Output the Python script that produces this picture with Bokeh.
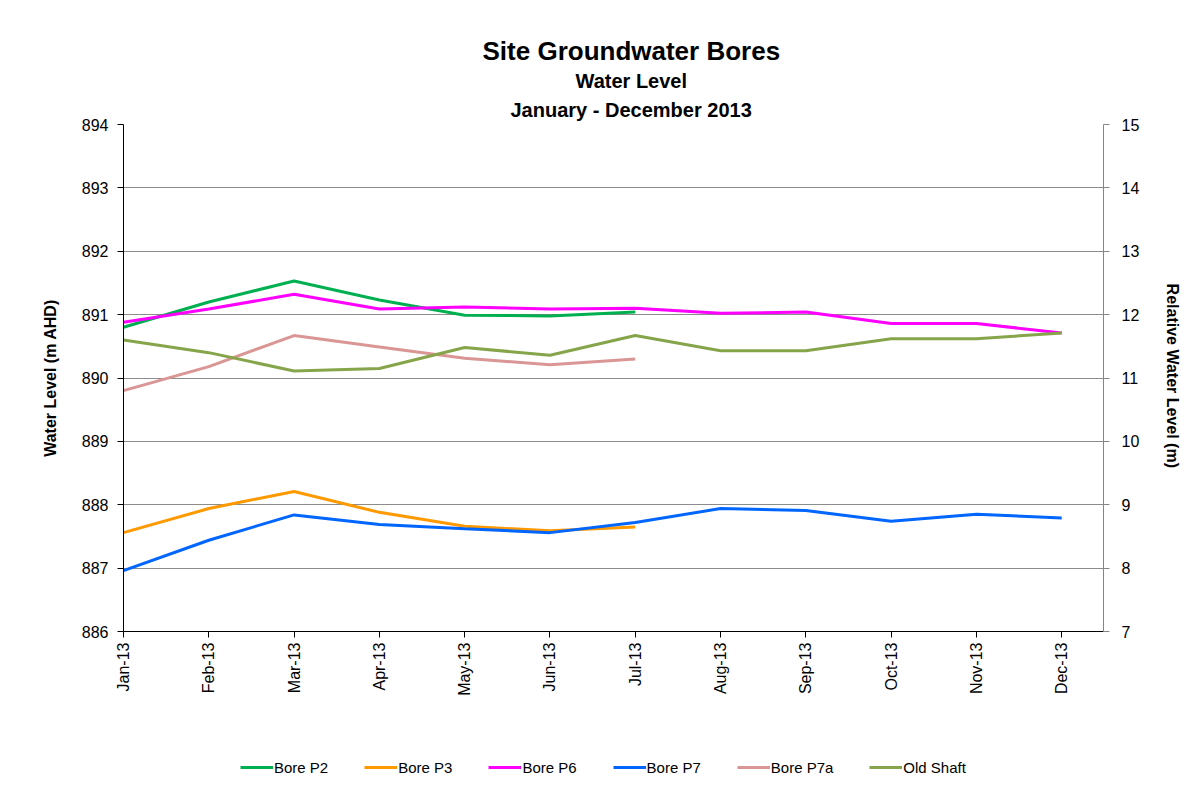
from bokeh.plotting import figure
from bokeh.layouts import column
from bokeh.models import (Range1d, LinearAxis, FixedTicker, Title, Legend, LegendItem)
from bokeh.embed import file_html
from bokeh.resources import INLINE
import math

months = ["Jan-13", "Feb-13", "Mar-13", "Apr-13", "May-13", "Jun-13",
          "Jul-13", "Aug-13", "Sep-13", "Oct-13", "Nov-13", "Dec-13"]

bore_p2 = [890.80, 891.20, 891.53, 891.23, 890.99, 890.98, 891.04]
bore_p3 = [887.56, 887.94, 888.21, 887.88, 887.66, 887.59, 887.65]
bore_p6 = [890.88, 891.09, 891.32, 891.09, 891.12, 891.09, 891.10,
           891.02, 891.04, 890.86, 890.86, 890.71]
bore_p7 = [886.96, 887.44, 887.84, 887.69, 887.62, 887.56, 887.72,
           887.94, 887.91, 887.74, 887.85, 887.79]
bore_p7a = [889.80, 890.18, 890.67, 890.49, 890.31, 890.21, 890.30]
old_shaft = [890.60, 890.40, 890.11, 890.15, 890.48, 890.36, 890.67,
             890.43, 890.43, 890.62, 890.62, 890.71]

left_ticks = [886, 887, 888, 889, 890, 891, 892, 893, 894]
right_ticks = [7, 8, 9, 10, 11, 12, 13, 14, 15]

series = [
    ("Bore P2", bore_p2, "#00b050"),
    ("Bore P3", bore_p3, "#ff9900"),
    ("Bore P6", bore_p6, "#ff00ff"),
    ("Bore P7", bore_p7, "#0066ff"),
    ("Bore P7a", bore_p7a, "#d99694"),
    ("Old Shaft", old_shaft, "#86a44a"),
]

FONT = "Liberation Sans"

p = figure(output_backend="svg", toolbar_location=None, title=None,
           frame_width=980, frame_height=507,
           min_border_left=123, min_border_top=124,
           min_border_right=93, min_border_bottom=70,
           x_range=Range1d(0, 11.49), y_range=Range1d(left_ticks[0], left_ticks[-1]))
p.extra_y_ranges = {"rel": Range1d(right_ticks[0], right_ticks[-1])}
p.outline_line_color = None
p.background_fill_color = "white"
p.border_fill_color = "white"

# grid
p.xgrid.visible = False
p.ygrid.ticker = FixedTicker(ticks=left_ticks)
p.ygrid.grid_line_color = "#8c8c8c"
p.ygrid.grid_line_width = 1

def style_axis(ax, color="black"):
    ax.axis_line_color = color
    ax.axis_line_width = 1
    ax.major_tick_line_color = color
    ax.major_tick_out = 6
    ax.major_tick_in = 0
    ax.minor_tick_line_color = None
    ax.major_label_text_font = FONT
    ax.major_label_text_font_size = "16px"
    ax.major_label_text_color = "black"
    ax.axis_label_text_font = FONT
    ax.axis_label_text_font_size = "16px"
    ax.axis_label_text_font_style = "bold"
    ax.axis_label_text_color = "black"

# x axis
xa = p.xaxis[0]
style_axis(xa)
xa.ticker = FixedTicker(ticks=list(range(len(months))))
xa.major_label_overrides = {i: m for i, m in enumerate(months)}
xa.major_label_orientation = math.pi / 2
xa.major_label_standoff = 5

# left axis
ya = p.yaxis[0]
style_axis(ya)
ya.ticker = FixedTicker(ticks=left_ticks)
ya.axis_label = "Water Level (m AHD)"
ya.axis_label_standoff = 20
ya.major_label_standoff = 9

# right axis
ra = LinearAxis(y_range_name="rel")
style_axis(ra, "#868686")
ra.ticker = FixedTicker(ticks=right_ticks)
ra.axis_label = "Relative Water Level  (m)"
ra.axis_label_standoff = 22
ra.major_label_standoff = 12
p.add_layout(ra, "right")

for name, vals, color in series:
    p.line(list(range(len(vals))), vals, line_color=color, line_width=3)

# titles (first added sits closest to the plot)
titles = [("January - December 2013", "20px", 387, 8),
          ("Water Level", "20px", 452, 2),
          ("Site Groundwater Bores", "26px", 359, 1)]
for text, size, off, so in titles:
    p.add_layout(Title(text=text, align="left", offset=off, standoff=so,
                       text_font=FONT, text_font_size=size,
                       text_font_style="bold", text_color="black"), "above")

# legend strip below the chart (series re-drawn out of view for legend swatches)
lg = figure(output_backend="svg", toolbar_location=None, title=None,
            width=1196, height=95, min_border=0,
            x_axis_type=None, y_axis_type=None,
            x_range=Range1d(0, 11.49), y_range=Range1d(0, 1))
lg.outline_line_color = None
lg.background_fill_color = "white"
lg.border_fill_color = "white"
items = []
for name, vals, color in series:
    r = lg.line(list(range(len(vals))), vals, line_color=color, line_width=3)
    items.append(LegendItem(label=name, renderers=[r]))

legend = Legend(items=items, orientation="horizontal", location=(117, 19),
                padding=0, margin=0, spacing=36, label_standoff=1,
                glyph_width=33, glyph_height=20,
                label_text_font=FONT, label_text_font_size="15px",
                label_text_color="black",
                background_fill_alpha=0, border_line_color=None)
lg.add_layout(legend, "center")

layout = column(p, lg, spacing=0)
open("out.html", "w").write(file_html(layout, INLINE))
